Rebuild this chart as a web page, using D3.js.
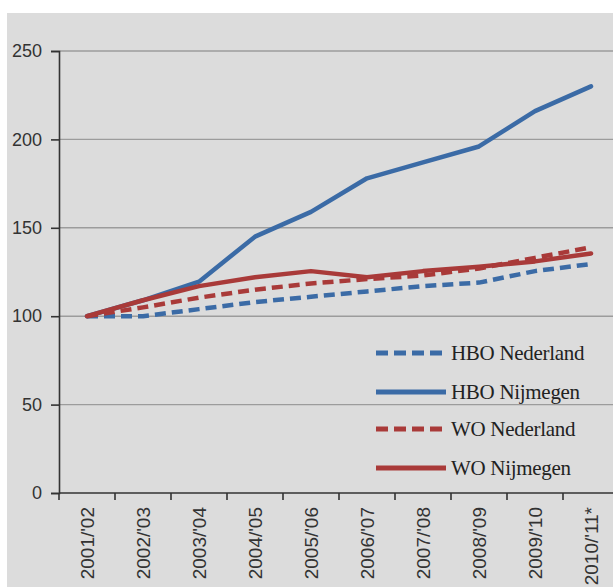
<!DOCTYPE html>
<html><head><meta charset="utf-8">
<script src="https://cdn.jsdelivr.net/npm/d3@7"></script>
<style>html,body{margin:0;padding:0;background:#fff;}</style>
</head><body>
<svg id="c" width="613" height="587"></svg>
<script>
const categories = ["2001/'02","2002/'03","2003/'04","2004/'05","2005/'06","2006/'07","2007/'08","2008/'09","2009/'10","2010/'11*"];
const hboNederland = [100, 100, 104, 108, 111, 114, 117, 119, 125.5, 129.5];
const hboNijmegen  = [100, 109, 119.5, 145, 159, 178, 187, 196, 216, 230];
const woNederland  = [100, 105, 110.5, 115, 118.5, 121, 123, 127, 133, 139];
const woNijmegen   = [100, 109, 117, 122, 125.5, 122, 125.5, 128, 131, 135.5];
const yTicks = [0, 50, 100, 150, 200, 250];
const seriesNames = ["HBO Nederland","HBO Nijmegen","WO Nederland","WO Nijmegen"];

const blue = "#3b6ba6", red = "#a93a39";
const series = [
  {name: seriesNames[0], values: hboNederland, color: blue, dash: "11,6"},
  {name: seriesNames[1], values: hboNijmegen, color: blue, dash: null},
  {name: seriesNames[2], values: woNederland, color: red, dash: "11,6"},
  {name: seriesNames[3], values: woNijmegen, color: red, dash: null}
];

const svg = d3.select("#c");
svg.append("rect").attr("x",7).attr("y",13).attr("width",606).attr("height",574).attr("fill","#dcdcdc");

const x = d3.scaleBand().domain(categories).range([59, 619]);
const y = d3.scaleLinear().domain([0, 250]).range([493, 51]);

// gridlines
svg.append("g").selectAll("line").data(yTicks.filter(d => d > 0)).join("line")
  .attr("x1", 59).attr("x2", 613).attr("y1", d => y(d)).attr("y2", d => y(d))
  .attr("stroke", "#9c9c9c").attr("stroke-width", 1.4);

// y axis
const yAxis = svg.append("g").attr("transform","translate(59,0)")
  .call(d3.axisLeft(y).tickValues(yTicks).tickSize(8).tickPadding(9));
yAxis.select(".domain").attr("stroke","#333").attr("stroke-width",1.6);
yAxis.selectAll(".tick line").attr("stroke","#333").attr("stroke-width",1.6);
yAxis.selectAll("text").attr("font-family","'Liberation Sans', Arial, sans-serif").attr("font-size",18).attr("fill","#333");

// x axis
const xg = svg.append("g");
xg.append("line").attr("x1",59).attr("x2",613).attr("y1",y(0)).attr("y2",y(0)).attr("stroke","#333").attr("stroke-width",1.6);
xg.selectAll("line.tk").data(categories).join("line").attr("class","tk")
  .attr("x1", d => x(d)).attr("x2", d => x(d)).attr("y1", y(0)).attr("y2", y(0)+7)
  .attr("stroke","#333").attr("stroke-width",1.6);
xg.selectAll("text").data(categories).join("text")
  .attr("transform", d => `translate(${x(d)+x.bandwidth()/2+7},507) rotate(-90)`)
  .attr("text-anchor","end")
  .attr("font-family","'Liberation Sans', Arial, sans-serif").attr("font-size",19).attr("fill","#333")
  .text(d => d);

// lines
const line = d3.line().x((d,i) => x(categories[i]) + x.bandwidth()/2).y(d => y(d));
svg.append("g").selectAll("path").data(series).join("path")
  .attr("d", d => line(d.values))
  .attr("fill","none").attr("stroke", d => d.color).attr("stroke-width", 4.5)
  .attr("stroke-linejoin","round").attr("stroke-linecap", d => d.dash ? "butt" : "round")
  .attr("stroke-dasharray", d => d.dash);

// legend
const legRows = [353, 392, 429, 468];
const lg = svg.append("g");
series.forEach((s, i) => {
  lg.append("line").attr("x1",376).attr("x2",446).attr("y1",legRows[i]).attr("y2",legRows[i])
    .attr("stroke", s.color).attr("stroke-width",5).attr("stroke-dasharray", s.dash ? "12,6" : null);
  lg.append("text").attr("x",451).attr("y",legRows[i]+7)
    .attr("font-family","'Liberation Serif', 'Times New Roman', serif").attr("font-size",21)
    .attr("fill","#222").attr("letter-spacing",-0.3).text(s.name);
});
</script>
</body></html>
